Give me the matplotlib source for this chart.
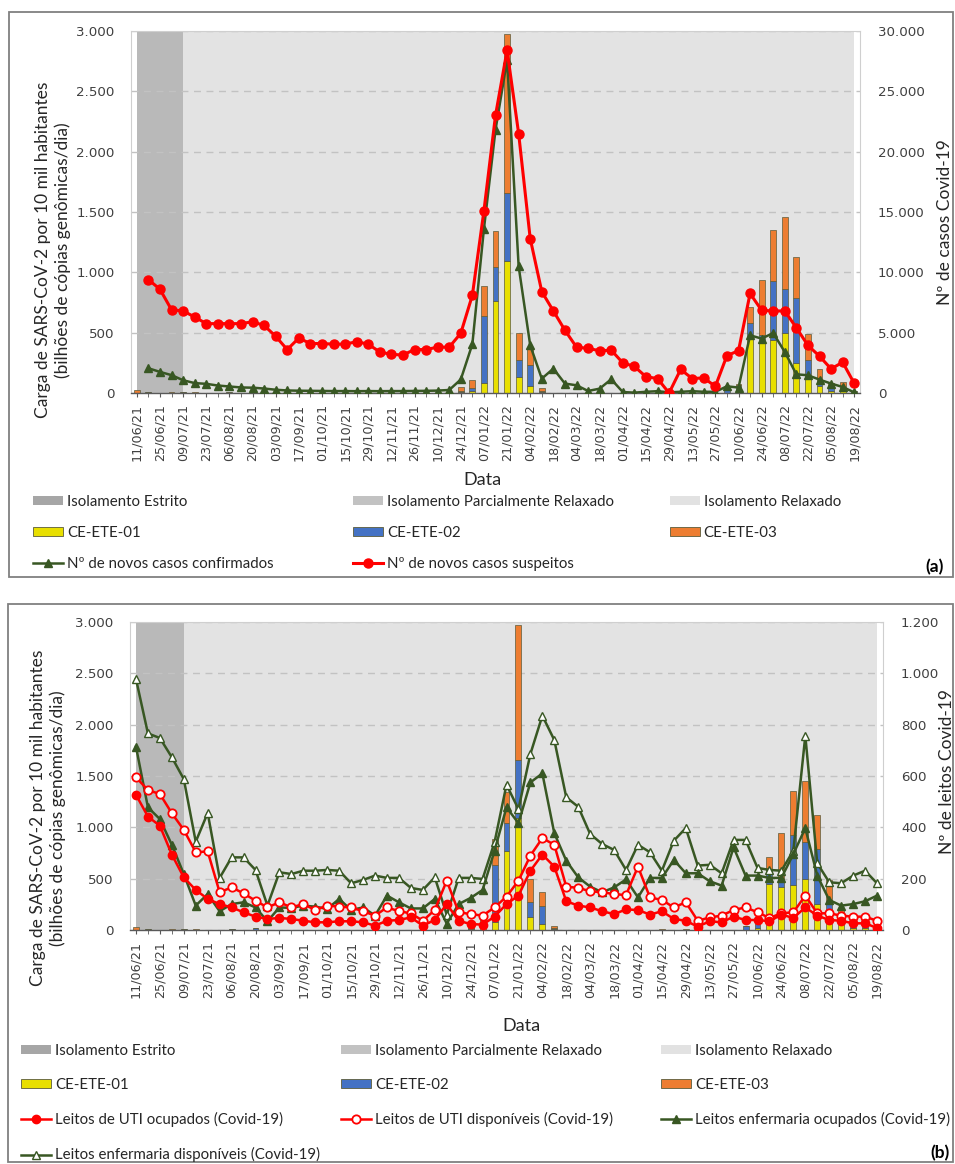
import numpy as np
import pandas as pd
import matplotlib
matplotlib.use("Agg")
import matplotlib.pyplot as plt
from matplotlib.patches import Patch, Rectangle
from matplotlib.ticker import FuncFormatter, MultipleLocator

W, H = 955, 1164

# =========================================================================== #
# Data
# =========================================================================== #
dates = pd.date_range("2021-06-11", periods=63, freq="7D")
date_labels = list(dates.strftime("%d/%m/%y"))

phase_names = ["Isolamento Estrito", "Isolamento Parcialmente Relaxado", "Isolamento Relaxado"]
phase_colors = ["#a6a6a6", "#b9b9b9", "#e3e3e3"]
phase_start = [None, 0, 4]
phase_end = [None, 4, 62]

ce01 = [0, 0, 0, 0, 0, 0, 0, 0, 0, 0, 0, 0, 0, 0, 0, 0, 0, 0, 0, 0,
        0, 0, 0, 0, 0, 0, 0, 0, 10, 20, 80, 765, 1090, 130, 55, 10, 0, 0, 0, 0,
        0, 0, 0, 0, 0, 0, 0, 0, 0, 0, 0, 0, 20, 450, 420, 440, 495, 250, 120, 55,
        20, 20, 5]
ce02 = [0, 5, 0, 0, 10, 0, 0, 0, 10, 0, 15, 0, 0, 0, 0, 0, 0, 0, 0, 0,
        0, 0, 0, 0, 0, 0, 0, 0, 10, 25, 555, 280, 565, 145, 175, 5, 0, 0, 0, 0,
        0, 0, 0, 0, 0, 0, 0, 0, 0, 0, 0, 35, 50, 130, 60, 490, 365, 540, 150, 50,
        50, 25, 10]
ce03 = [25, 0, 0, 10, 0, 5, 0, 0, 0, 0, 0, 0, 0, 0, 0, 0, 0, 0, 0, 0,
        0, 0, 0, 0, 0, 0, 0, 0, 30, 60, 255, 300, 1320, 220, 145, 25, 0, 0, 0, 0,
        0, 0, 0, 0, 5, 0, 5, 0, 0, 0, 0, 0, 5, 130, 460, 420, 595, 335, 215, 95,
        10, 50, 5]

# panel (a): weekly new cases
casos_confirmados = [np.nan, 2050, 1750, 1480, 1060, 820, 760, 620, 540, 460, 440, 370, 270, 210, 190, 180, 170, 160, 160, 150,
                     160, 150, 160, 160, 170, 180, 200, 250, 1120, 4050, 13600, 21800, 27600, 10500, 3950, 1190, 2020, 780, 640, 170,
                     360, 1140, 80, 30, 100, 150, 50, 100, 150, 100, 100, 555, 450, 4780, 4510, 4970, 3400, 1550, 1470, 1110,
                     780, 500, 50]
casos_suspeitos = [np.nan, 9400, 8600, 6900, 6800, 6300, 5750, 5750, 5750, 5750, 5900, 5600, 4700, 3600, 4550, 4100, 4100, 4050, 4050, 4250,
                   4050, 3400, 3200, 3150, 3600, 3600, 3800, 3800, 4950, 8100, 15100, 23000, 28400, 21500, 12800, 8400, 6800, 5200, 3800, 3700,
                   3500, 3550, 2500, 2200, 1350, 1200, 0, 1950, 1200, 1250, 550, 3100, 3500, 8250, 6850, 6800, 6800, 5400, 3950, 3050,
                   2000, 2550, 800]

# panel (b): Covid-19 beds
uti_ocupados = [527, 442, 406, 294, 205, 156, 121, 101, 88, 69, 52, 43, 47, 43, 36, 30, 30, 34, 34, 30,
                17, 36, 39, 49, 17, 39, 101, 36, 23, 21, 52, 101, 134, 231, 294, 247, 112, 95, 88, 73,
                62, 80, 78, 60, 73, 43, 36, 13, 34, 30, 52, 39, 39, 34, 60, 47, 88, 56, 39, 36,
                26, 26, 8]
uti_disponiveis = [595, 545, 530, 455, 390, 303, 306, 147, 166, 143, 114, 88, 108, 88, 101, 78, 95, 91, 88, 73,
                   56, 88, 73, 65, 36, 78, 192, 69, 62, 56, 88, 130, 192, 290, 358, 332, 169, 164, 151, 147,
                   140, 136, 247, 127, 117, 88, 108, 36, 49, 56, 78, 88, 69, 47, 65, 69, 134, 65, 65, 56,
                   52, 52, 36]
enf_ocupados = [714, 478, 432, 332, 218, 95, 140, 73, 101, 108, 88, 34, 88, 86, 95, 91, 82, 121, 78, 88,
                56, 134, 108, 84, 84, 121, 25, 101, 125, 156, 309, 478, 416, 575, 610, 377, 270, 205, 169, 147,
                166, 197, 127, 203, 203, 273, 221, 221, 190, 173, 322, 212, 212, 203, 203, 296, 397, 212, 117, 95,
                101, 112, 134]
enf_disponiveis = [978, 766, 748, 673, 588, 344, 456, 203, 283, 283, 234, 95, 225, 218, 231, 231, 234, 231, 182, 195,
                   212, 203, 203, 164, 156, 205, 60, 203, 203, 199, 342, 566, 471, 686, 835, 740, 517, 480, 374, 335,
                   312, 234, 332, 303, 231, 348, 397, 251, 254, 221, 351, 351, 242, 234, 231, 309, 757, 260, 186, 182,
                   212, 231, 182]

# =========================================================================== #
# Style
# =========================================================================== #
YELLOW = "#e8df00"
BLUE = "#4472c4"
ORANGE = "#ed7d31"
BAR_EDGE = "#5b5b3a"
RED = "#ff0000"
GREEN = "#385723"
TXT = "#262626"
TICK = "#404040"
LABEL_FONT = ["Lato", "DejaVu Sans"]
TICK_FONT = ["DejaVu Sans"]

plt.rcParams["font.family"] = LABEL_FONT


def thousands(v, pos):
    return f"{v:,.0f}".replace(",", ".")


def px_axes(fig, left, top, right, bottom):
    return fig.add_axes([left / W, 1 - bottom / H, (right - left) / W, (bottom - top) / H])


def draw_bars(ax):
    x = np.arange(len(date_labels))
    for s, e, c in zip(phase_start, phase_end, phase_colors):
        if s is not None:
            ax.axvspan(s, e, color=c, lw=0, zorder=0)
    y1 = np.array(ce01, float)
    y2 = np.array(ce02, float)
    y3 = np.array(ce03, float)
    kw = dict(width=0.5, edgecolor=BAR_EDGE, linewidth=0.5, zorder=2)
    ax.bar(x, y1, color=YELLOW, **kw)
    ax.bar(x, y2, bottom=y1, color=BLUE, **kw)
    ax.bar(x, y3, bottom=y1 + y2, color=ORANGE, **kw)

    ax.set_xlim(-0.5, len(x) - 0.5)
    ax.set_ylim(0, 3000)
    ax.yaxis.set_major_locator(MultipleLocator(500))
    ax.yaxis.set_major_formatter(FuncFormatter(thousands))
    ax.grid(axis="y", ls=(0, (5, 4)), color="#c2c2c2", lw=1.0)
    ax.set_xticks(x[::2], [date_labels[i] for i in x[::2]], rotation=90)
    ax.set_xticks(x, minor=True)
    ax.tick_params(axis="x", which="both", length=3, color="#595959", pad=5,
                   labelsize=9.2, labelcolor=TICK, labelfontfamily=TICK_FONT)
    ax.tick_params(axis="y", length=0, pad=12, labelsize=9.6, labelcolor=TICK,
                   labelfontfamily=TICK_FONT)
    for side in ["left", "top", "right"]:
        ax.spines[side].set_color("#cfcfcf")
        ax.spines[side].set_linewidth(0.8)
    ax.spines["bottom"].set_color("#595959")
    ax.spines["bottom"].set_linewidth(1.0)
    return x


def setup_right(ax2, top, step):
    ax2.set_ylim(0, top)
    ax2.yaxis.set_major_locator(MultipleLocator(step))
    ax2.yaxis.set_major_formatter(FuncFormatter(thousands))
    ax2.tick_params(axis="y", length=0, pad=13, labelsize=9.6, labelcolor=TICK,
                    labelfontfamily=TICK_FONT)
    for sp in ax2.spines.values():
        sp.set_visible(False)


def legend_column(fig, handles, labels, x, y, spacing):
    fig.legend(handles, labels, loc="upper left", bbox_to_anchor=(x / W, 1 - y / H),
               frameon=False, borderpad=0, borderaxespad=0, handlelength=2.0,
               handleheight=0.55, handletextpad=0.25, labelspacing=spacing,
               fontsize=10.8, labelcolor=TXT)


fig = plt.figure(figsize=(W / 100, H / 100), dpi=100)

# panel frames
fig.add_artist(Rectangle((9 / W, 1 - 577 / H), 944 / W, 565 / H, transform=fig.transFigure,
                         fill=False, edgecolor="#808080", lw=1.3))
fig.add_artist(Rectangle((8 / W, 1 - 1162 / H), 945 / W, 558 / H, transform=fig.transFigure,
                         fill=False, edgecolor="#808080", lw=1.3))

phase_handles = [Patch(facecolor=c, edgecolor="none") for c in ["#a6a6a6", "#c2c2c2", "#e2e2e2"]]
bar_handles = [Patch(facecolor=c, edgecolor=BAR_EDGE, lw=0.6) for c in [YELLOW, BLUE, ORANGE]]
bar_names = ["CE-ETE-01", "CE-ETE-02", "CE-ETE-03"]
ylabel_left = "Carga de SARS-CoV-2 por 10 mil habitantes\n(bilhões de cópias genômicas/dia)"

# ---------------------------------------------------------------- panel (a)
ax_a = px_axes(fig, 131, 31, 860, 393)
x = draw_bars(ax_a)
ax_a2 = ax_a.twinx()
setup_right(ax_a2, 30000, 5000)
l_conf, = ax_a2.plot(x, casos_confirmados, color=GREEN, lw=1.8, marker="^", ms=6, zorder=3)
l_susp, = ax_a2.plot(x, casos_suspeitos, color=RED, lw=2.2, marker="o", ms=6.5, zorder=4)

fig.text(53 / W, 1 - 250 / H, ylabel_left, rotation=90, ha="center", va="center",
         fontsize=12.5, linespacing=1.3, color=TXT)
fig.text(945 / W, 1 - 222 / H, "Nº de casos Covid-19", rotation=90, ha="center", va="center",
         fontsize=12.5, color=TXT)
fig.text(482 / W, 1 - 480 / H, "Data", ha="center", va="center", fontsize=13, color=TXT)

legend_column(fig, [phase_handles[0], bar_handles[0], l_conf],
              [phase_names[0], bar_names[0], "Nº de novos casos confirmados"], 33, 495, 1.12)
legend_column(fig, [phase_handles[1], bar_handles[1], l_susp],
              [phase_names[1], bar_names[1], "Nº de novos casos suspeitos"], 353, 495, 1.12)
legend_column(fig, [phase_handles[2], bar_handles[2]],
              [phase_names[2], bar_names[2]], 670, 495, 1.12)
fig.text(935 / W, 1 - 567 / H, "(a)", ha="center", va="center", fontsize=12.5,
         fontweight="bold", color="black")

# ---------------------------------------------------------------- panel (b)
ax_b = px_axes(fig, 130, 622, 883, 930)
x = draw_bars(ax_b)
ax_b2 = ax_b.twinx()
setup_right(ax_b2, 1200, 200)
l_ed, = ax_b2.plot(x, enf_disponiveis, color=GREEN, lw=1.8, marker="^", ms=6,
                   mfc="white", mec=GREEN, mew=1.0, zorder=3)
l_eo, = ax_b2.plot(x, enf_ocupados, color=GREEN, lw=1.8, marker="^", ms=6, zorder=3)
l_ud, = ax_b2.plot(x, uti_disponiveis, color=RED, lw=1.8, marker="o", ms=6,
                   mfc="white", mec=RED, mew=1.3, zorder=4)
l_uo, = ax_b2.plot(x, uti_ocupados, color=RED, lw=1.8, marker="o", ms=6, zorder=4)

fig.text(48 / W, 1 - 818 / H, ylabel_left, rotation=90, ha="center", va="center",
         fontsize=12.5, linespacing=1.3, color=TXT)
fig.text(947 / W, 1 - 772 / H, "Nº de leitos Covid-19", rotation=90, ha="center", va="center",
         fontsize=12.5, color=TXT)
fig.text(521 / W, 1 - 1026 / H, "Data", ha="center", va="center", fontsize=13, color=TXT)

legend_column(fig, [phase_handles[0], bar_handles[0], l_uo, l_ed],
              [phase_names[0], bar_names[0], "Leitos de UTI ocupados (Covid-19)",
               "Leitos enfermaria disponíveis (Covid-19)"], 21, 1044, 1.34)
legend_column(fig, [phase_handles[1], bar_handles[1], l_ud],
              [phase_names[1], bar_names[1], "Leitos de UTI disponíveis (Covid-19)"], 341, 1044, 1.34)
legend_column(fig, [phase_handles[2], bar_handles[2], l_eo],
              [phase_names[2], bar_names[2], "Leitos enfermaria ocupados (Covid-19)"], 661, 1044, 1.34)
fig.text(940 / W, 1 - 1153 / H, "(b)", ha="center", va="center", fontsize=12.5,
         fontweight="bold", color="black")

fig.savefig("out.png", dpi=100)
